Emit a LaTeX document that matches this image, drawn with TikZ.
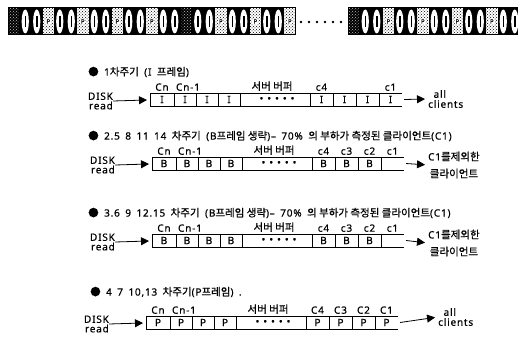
\documentclass[tikz,border=0pt]{standalone}
\usepackage{fontspec}
\setmainfont{Noto Sans}[LetterSpace=8, WordSpace=1.6, FakeBold=0.6]
\newfontfamily\krf{Noto Sans CJK KR}[Scale=1.05, FakeBold=0.6]
\newcommand\kr[1]{{\krf #1}}
\usetikzlibrary{arrows.meta,patterns}
\tikzset{
  txt/.style={inner sep=0pt, font=\fontsize{10}{10}\selectfont},
  arr/.style={-{Triangle[length=8pt,width=8pt]}, line width=0.8pt},
  boxline/.style={line width=0.6pt},
}
% one row of the server buffer
\newcommand\gsbox[9]{%
  \draw[boxline] (0,0) -- (252,0) (0,13) -- (252,13);
  \foreach \xx in {0,24,46,68,90,160,183,206,229} {\draw[boxline] (\xx,0) -- (\xx,13);}
  \node[txt] (L1) at (12,6.5) {#1};
  \node[txt] (L2) at (35,6.5) {#1};
  \node[txt] (L3) at (57,6.5) {#1};
  \node[txt] (L4) at (79,6.5) {#1};
  \node[txt] (D) at (127,6.5) {•\hspace{4pt}•\hspace{4pt}•\hspace{4pt}•\hspace{4pt}•};
  \node[txt] (R4) at (171.5,6.5) {#2};
  \node[txt] (R3) at (194.5,6.5) {#3};
  \node[txt] (R2) at (217.5,6.5) {#4};
  \node[txt] (R1) at (240.5,6.5) {#5};
  \node[txt, anchor=south] (lCn) at (12,-2) {Cn};
  \node[txt, anchor=south] (lCm) at (38,-2) {Cn-1};
  \node[txt, anchor=south] (lbuf) at (122,-2) {\kr{서버 버퍼}};
  \node[txt, anchor=south] (lc4) at (171.5,-2) {#6};
  \node[txt, anchor=south] (lc3) at (194.5,-2) {#7};
  \node[txt, anchor=south] (lc2) at (217.5,-2) {#8};
  \node[txt, anchor=south] (lc1) at (240.5,-2) {#9};
  \node[txt, anchor=east, align=right, font=\fontsize{10}{9.5}\selectfont] (disk) at (-37,8) {DISK\\read};
  \coordinate (in) at (-3,7);
  \draw[arr] (disk.east) -- (in);
  \coordinate (out) at (254,6.5);
}
% one frame of the film strip
\newcommand\gsframe[2]{%
  \pgfmathtruncatemacro\gsm{mod(#2,15)}%
  \pgfmathtruncatemacro\gsmm{mod(#2,3)}%
  \ifnum\gsm=0
    \fill[black] (#1,8) rectangle ++(11.5,27);
    \fill[pattern=crosshatch dots, pattern color=white!75!black] (#1+1,9) rectangle ++(9.5,25);
  \else\ifnum\gsmm=0
    \fill[white] (#1,8) rectangle ++(11.5,27);
    \fill[pattern=crosshatch dots, pattern color=black] (#1,8) rectangle ++(11.5,27);
    \fill[white] (#1+5.75,21.5) circle (3.2);
    \node[font=\fontsize{6}{6}\selectfont\bfseries, inner sep=0pt] at (#1+5.75,21.5) {P};
  \else
    \fill[black] (#1,8) rectangle ++(11.5,27);
    \fill[white] (#1+5.75,21.5) ellipse (3.6 and 12);
    \draw[black, line width=1.5pt] (#1+5.75,16) -- (#1+5.75,27);
  \fi\fi
}
\begin{document}
\begin{tikzpicture}[x=1pt,y=-1pt]
\useasboundingbox (0,0) rectangle (518,352);
% film strip
\foreach \k in {0,...,24} {\pgfmathsetmacro\xa{8+11.5*\k}\gsframe{\xa}{\k}}
\draw[line width=1pt] (8,8) rectangle (295.5,35);
\foreach \i in {0,...,5} {\fill (301+8*\i,22) circle (1.3);}
\foreach \k in {0,...,14} {\pgfmathsetmacro\xa{348+11.5*\k}\gsframe{\xa}{\k}}
\draw[line width=1pt] (348,8) -- (520,8) (348,35) -- (520,35) (348,8) -- (348,35);

% row 1
\node[txt, anchor=west] (t1) at (88,72) {\kr{●} 1\kr{차주기} (I \kr{프레임})};
\begin{scope}[shift={(150,93)}, name prefix=r1-]
  \gsbox{I}{I}{I}{I}{I}{c4}{}{}{c1}
  \node[txt, anchor=west, align=left] (dest) at (278,6) {\ all\\clients};
  \draw[arr, shorten >=3pt] (out) -- (dest.west);
\end{scope}

% row 2
\node[txt, anchor=west] (t2) at (88,136) {\kr{●} 2.5 8 11 14 \kr{차주기} (B\kr{프레임 생략})– 70\% \kr{의 부하가 측정된 클라이언트}(C1)};
\begin{scope}[shift={(152,157)}, name prefix=r2-]
  \gsbox{B}{B}{B}{B}{}{c4}{c3}{c2}{c1}
  \node[txt, anchor=west, align=center, font=\fontsize{10}{17}\selectfont] (dest) at (276,8) {C1\kr{를제외한}\\\kr{클라이언트}};
  \draw[arr, shorten >=3pt] (out) -- (dest.west);
\end{scope}

% row 3
\node[txt, anchor=west] (t3) at (88,213) {\kr{●} 3.6 9 12.15 \kr{차주기} (B\kr{프레임 생략})– 70\% \kr{의 부하가 측정된 클라이언트}(C1)};
\begin{scope}[shift={(152,234)}, name prefix=r3-]
  \gsbox{B}{B}{B}{B}{}{c4}{c3}{c2}{c1}
  \node[txt, anchor=west, align=center, font=\fontsize{10}{17}\selectfont] (dest) at (276,9) {C1\kr{를제외한}\\\kr{클라이언트}};
  \draw[arr, shorten >=3pt] (out) -- (dest.west);
\end{scope}

% row 4
\node[txt, anchor=west] (t4) at (90,292) {\kr{●} 4 7 10,13 \kr{차주기}(P\kr{프레임}) .};
\begin{scope}[shift={(146,316)}, name prefix=r4-]
  \gsbox{P}{P}{P}{P}{P}{C4}{C3}{C2}{C1}
  \node[txt, anchor=west, align=left] (dest) at (292,1) {\ all\\clients};
  \draw[arr, shorten >=3pt] (out) -- (dest.west);
\end{scope}
\end{tikzpicture}
\end{document}
